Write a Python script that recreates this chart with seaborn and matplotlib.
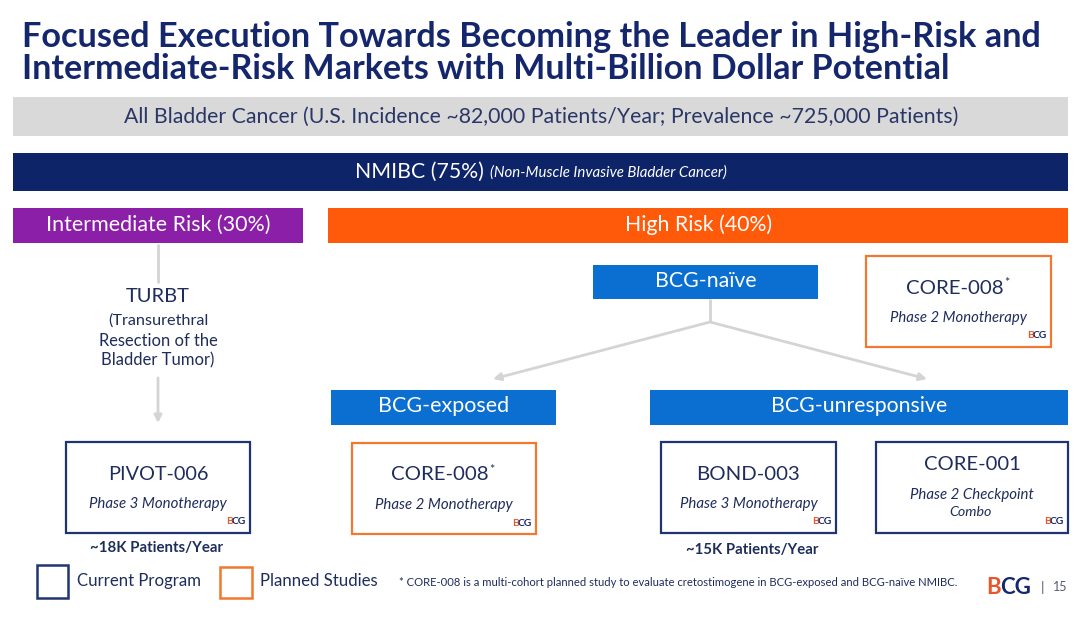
import matplotlib
matplotlib.use("Agg")
import matplotlib.pyplot as plt
import seaborn as sns
from matplotlib.patches import Rectangle, FancyArrowPatch

# ---------------- data ----------------
title_lines = ["Focused Execution Towards Becoming the Leader in High-Risk and",
               "Intermediate-Risk Markets with Multi-Billion Dollar Potential"]
population_label = "All Bladder Cancer (U.S. Incidence ~82,000 Patients/Year; Prevalence ~725,000 Patients)"
nmibc_label = "NMIBC (75%)"
nmibc_note = "(Non-Muscle Invasive Bladder Cancer)"
risk_labels = ["Intermediate Risk (30%)", "High Risk (40%)"]
bcg_labels = ["BCG-naïve", "BCG-exposed", "BCG-unresponsive"]
turbt_lines = ["TURBT", "(Transurethral", "Resection of the", "Bladder Tumor)"]
program_names = ["CORE-008", "PIVOT-006", "CORE-008", "BOND-003", "CORE-001"]
program_asterisk = [True, False, True, False, False]
program_phases = ["Phase 2 Monotherapy", "Phase 3 Monotherapy", "Phase 2 Monotherapy",
                  "Phase 3 Monotherapy", "Phase 2 Checkpoint\nCombo"]
program_status = ["planned", "current", "planned", "current", "current"]
patient_labels = ["~18K Patients/Year", "~15K Patients/Year"]
legend_labels = ["Current Program", "Planned Studies"]
footnote = "* CORE-008 is a multi-cohort planned study to evaluate cretostimogene in BCG-exposed and BCG-naïve NMIBC."
page_number = "15"

# ---------------- styles / layout ----------------
NAVY_T = "#15276c"
NAVY_BAR = "#0e2468"
GREY_BAR = "#d9d9d9"
PURPLE = "#8c1fa8"
ORANGE = "#ff5a0a"
BLUE = "#0b6fd1"
BOX_NAVY = "#1f3570"
BOX_ORANGE = "#f2782f"
TXT = "#1f2d5c"
LINE_GREY = "#d4d4d4"
LOGO_RED = "#e8562a"

sns.set_theme(style="white")
plt.rcParams['font.family'] = ['Lato', 'DejaVu Sans']

fig = plt.figure(figsize=(10.8, 6.2), dpi=100)
fig.patch.set_facecolor("white")
ax = fig.add_axes([0, 0, 1, 1])
ax.set_xlim(0, 1080)
ax.set_ylim(620, 0)
ax.axis("off")
renderer = fig.canvas.get_renderer()


def put(x, y, s, width=None, size=12, ha="center", va="center", **kw):
    t = ax.text(x, y, s, fontsize=size, ha=ha, va=va, **kw)
    if width:
        w = t.get_window_extent(renderer).width
        t.set_fontsize(size * width / w)
    return t


def bar(x0, y0, x1, y1, color):
    ax.add_patch(Rectangle((x0, y0), x1 - x0, y1 - y0, facecolor=color, edgecolor="none"))


def box(x0, y0, x1, y1, color, lw=1.6):
    ax.add_patch(Rectangle((x0, y0), x1 - x0, y1 - y0, facecolor="white", edgecolor=color, lw=lw))


def logo(x, y, size=7.5):
    put(x + 1, y, "B", size=size, ha="right", color=LOGO_RED, weight="bold")
    put(x, y, "CG", size=size, ha="left", color=NAVY_T, weight="bold")


# title
put(22, 47, title_lines[0], width=1018, size=22, ha="left", va="baseline",
    color=NAVY_T, weight="bold")
put(22, 79, title_lines[1], width=924, size=22, ha="left", va="baseline",
    color=NAVY_T, weight="bold")

# population bars
bar(13, 97, 1068, 136, GREY_BAR)
put(541, 117, population_label, width=834, size=14, color="#2a3666")

bar(13, 153, 1068, 191, NAVY_BAR)
put(355, 172, nmibc_label, width=128, size=14, ha="left", color="white")
put(490, 173, nmibc_note, width=237, size=8, ha="left", color="white", style="italic")

bar(13, 208, 303, 243, PURPLE)
put(158, 225, risk_labels[0], width=223, size=13, color="white")
bar(328, 208, 1068, 243, ORANGE)
put(699, 225, risk_labels[1], width=146, size=13, color="white")

# BCG categories
bcg_boxes = [(593, 265, 818, 299), (331, 390, 556, 425), (650, 390, 1068, 425)]
bcg_widths = [101, 130, 175]
for (x0, y0, x1, y1), lab, w in zip(bcg_boxes, bcg_labels, bcg_widths):
    bar(x0, y0, x1, y1, BLUE)
    put((x0 + x1) / 2, (y0 + y1) / 2 - 1, lab, width=w, size=13, color="white")

# TURBT
turbt_y = [297, 321, 341, 360]
turbt_w = [64, 101, 119, 114]
for s, yy, w in zip(turbt_lines, turbt_y, turbt_w):
    put(158, yy, s, width=w, size=12 if s == "TURBT" else 10, color=TXT)

# connector lines
ax.plot([158, 158], [244, 283], color=LINE_GREY, lw=2, solid_capstyle="butt")
ax.plot([710, 710], [299, 322], color=LINE_GREY, lw=2, solid_capstyle="butt")
for (xa, ya), (xb, yb) in [((158, 378), (158, 423)),
                           ((710, 322), (493, 379)),
                           ((710, 322), (927, 379))]:
    ax.add_patch(FancyArrowPatch((xa, ya), (xb, yb), arrowstyle="-|>", mutation_scale=11,
                                 color=LINE_GREY, lw=2, shrinkA=0, shrinkB=0))

# program boxes
prog_boxes = [(866, 256, 1051, 347), (66, 442, 250, 533), (352, 443, 536, 534),
              (661, 442, 836, 533), (876, 442, 1068, 533)]
name_widths = [98, 101, 98, 104, 97]
phase_widths = [137, 138, 138, 138, 124]
for i, (x0, y0, x1, y1) in enumerate(prog_boxes):
    col = BOX_ORANGE if program_status[i] == "planned" else BOX_NAVY
    box(x0, y0, x1, y1, col)
    cx = (x0 + x1) / 2
    two_line = "\n" in program_phases[i]
    ny = y0 + (23 if two_line else 32)
    t = put(cx - (4 if program_asterisk[i] else 0), ny, program_names[i],
            width=name_widths[i], size=14, color=TXT)
    if program_asterisk[i]:
        bb = t.get_window_extent(renderer)
        xr = ax.transData.inverted().transform((bb.x1, 0))[0]
        put(xr + 0.5, ny - 5, "*", size=9, ha="left", color=TXT)
    if two_line:
        l1, l2 = program_phases[i].split("\n")
        put(cx, y0 + 53, l1, width=phase_widths[i], size=10, color=TXT, style="italic")
        put(cx - 2, y0 + 70, l2, size=10.3, color=TXT, style="italic")
    else:
        put(cx, y0 + 62, program_phases[i], width=phase_widths[i], size=10,
            color=TXT, style="italic")
    logo(x1 - 18, y1 - 11)

# patient counts
put(157, 548, patient_labels[0], width=133, size=10, color=TXT, weight="bold")
put(752, 550, patient_labels[1], width=132, size=10, color=TXT, weight="bold")

# legend
box(37, 565, 68, 598, BOX_NAVY, lw=1.8)
put(77, 581, legend_labels[0], width=124, size=11, ha="left", color=TXT)
box(220, 567, 252, 598, BOX_ORANGE, lw=1.8)
put(260, 581, legend_labels[1], width=118, size=11, ha="left", color=TXT)

# footnote
put(399, 582, footnote, width=561, size=7, ha="left", color=TXT)

# footer logo and page number
put(1001, 588, "B", size=16, ha="right", color=LOGO_RED, weight="bold")
put(1000, 588, "CG", size=16, ha="left", color=NAVY_T, weight="bold")
put(1043, 587, "|", size=10, color="#555c7a")
put(1060, 587, page_number, size=9, color="#555c7a")

fig.savefig("out.png", dpi=100, facecolor="white")
